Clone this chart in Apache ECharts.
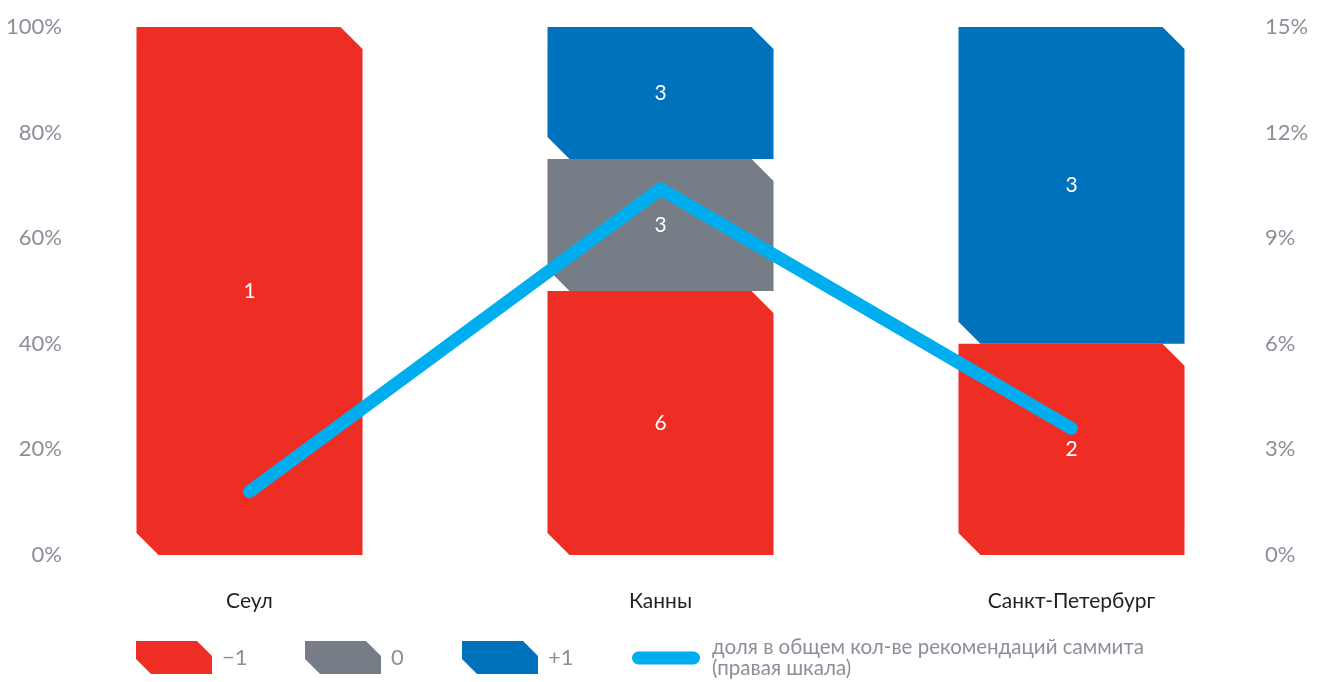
<!DOCTYPE html>
<html>
<head>
<meta charset="utf-8">
<script src="https://cdn.jsdelivr.net/npm/echarts@6/dist/echarts.min.js"></script>
<style>html,body{margin:0;padding:0;background:#fff;}#c{width:1325px;height:682px;}</style>
</head>
<body>
<div id="c"></div>
<script>
const categories = ['Сеул', 'Канны', 'Санкт-Петербург'];
const seriesNames = ['\u22121', '0', '+1'];
const minusOne = [1, 6, 2];
const zero = [0, 3, 0];
const plusOne = [0, 3, 3];
const shareName = 'доля в общем кол-ве рекомендаций саммита';
const shareValues = [1.8, 10.4, 3.6];
const leftTicks = [0, 20, 40, 60, 80, 100];
const rightTicks = [0, 3, 6, 9, 12, 15];

const colors = ['#ee2e24', '#777d87', '#0071bc'];
const lineColor = '#00aeef';
const FONT = 'Lato, "Open Sans", sans-serif';

const counts = [minusOne, zero, plusOne];
const totals = categories.map((_, i) => counts.reduce((s, arr) => s + arr[i], 0));
const stacked = counts.map(() => []);
categories.forEach((_, i) => {
  let acc = 0;
  counts.forEach((arr, k) => {
    const pct = arr[i] / totals[i] * 100;
    stacked[k].push([i, acc, acc + pct, arr[i]]);
    acc += pct;
  });
});

function makeRender(color) {
  return function (params, api) {
    const cat = api.value(0), y0 = api.value(1), y1 = api.value(2), cnt = api.value(3);
    if (!(cnt > 0)) return;
    const pTop = api.coord([cat, y1]);
    const pBot = api.coord([cat, y0]);
    const band = api.size([1, 0])[0];
    const w = band * 0.55;
    const xl = pTop[0] - w / 2, xr = pTop[0] + w / 2;
    const c = 22;
    const yt = pTop[1], yb = pBot[1];
    const pts = [[xl, yt], [xr - c, yt], [xr, yt + c], [xr, yb], [xl + c, yb], [xl, yb - c]];
    return {
      type: 'group',
      children: [
        { type: 'polygon', shape: { points: pts }, style: { fill: color } },
        { type: 'text', z2: 100, style: { text: String(cnt), x: pTop[0], y: (yt + yb) / 2, fill: '#fff',
          fontSize: 21, fontFamily: FONT, align: 'center', verticalAlign: 'middle' } }
      ]
    };
  };
}

const barIcon = 'path://M0,0 L61,0 L76,15 L76,33 L15,33 L0,18 Z';
const lineIcon = 'path://M6.5,0 L61.5,0 A6.5,6.5,0,0,1,61.5,13 L6.5,13 A6.5,6.5,0,0,1,6.5,0 Z';
const legendText = { color: '#8a8f99', fontSize: 22, fontFamily: FONT, padding: [0, 0, 0, 5] };
const legendLefts = [136, 305, 462];

const legends = seriesNames.map((n, k) => ({
  left: legendLefts[k], top: 641, padding: 0, itemWidth: 76, itemHeight: 33, selectedMode: false,
  data: [{ name: n, icon: barIcon, itemStyle: { color: colors[k] } }],
  textStyle: legendText
}));
legends.push({
  left: 632, top: 637, padding: 0, itemWidth: 68, itemHeight: 13, selectedMode: false,
  data: [{ name: shareName, icon: lineIcon, itemStyle: { color: lineColor } }],
  formatter: () => shareName + '\n(правая шкала)',
  textStyle: { color: '#8a8f99', fontSize: 20.5, lineHeight: 21, fontFamily: FONT, padding: [0, 0, 0, 7] }
});

const chart = echarts.init(document.getElementById('c'), null, { renderer: 'canvas' });
chart.setOption({
  animation: false,
  backgroundColor: '#fff',
  legend: legends,
  grid: { left: 44, right: 48, top: 27, bottom: 127 },
  xAxis: {
    type: 'category', data: categories, boundaryGap: true,
    axisLine: { show: false }, axisTick: { show: false },
    axisLabel: { margin: 36, color: '#231f20', fontSize: 21, fontFamily: FONT }
  },
  yAxis: [
    {
      type: 'value', min: leftTicks[0], max: leftTicks[leftTicks.length - 1], interval: 20,
      offset: -18, splitLine: { show: false }, axisLine: { show: false }, axisTick: { show: false },
      axisLabel: { margin: 0, formatter: '{value}%', color: '#8a8f99', fontSize: 22, fontFamily: FONT }
    },
    {
      type: 'value', min: rightTicks[0], max: rightTicks[rightTicks.length - 1], interval: 3,
      position: 'right', offset: -12, splitLine: { show: false }, axisLine: { show: false }, axisTick: { show: false },
      axisLabel: { margin: 0, formatter: '{value}%', color: '#8a8f99', fontSize: 22, fontFamily: FONT }
    }
  ],
  series: [
    ...seriesNames.map((n, k) => ({
      name: n, type: 'custom', renderItem: makeRender(colors[k]),
      itemStyle: { color: colors[k] },
      encode: { x: 0, y: [1, 2] },
      data: stacked[k], z: 2
    })),
    {
      name: shareName, type: 'line', yAxisIndex: 1, data: shareValues,
      showSymbol: false, symbol: 'none', z: 10,
      lineStyle: { color: lineColor, width: 13, cap: 'round', join: 'round' },
      itemStyle: { color: lineColor }
    }
  ]
});
</script>
</body>
</html>
